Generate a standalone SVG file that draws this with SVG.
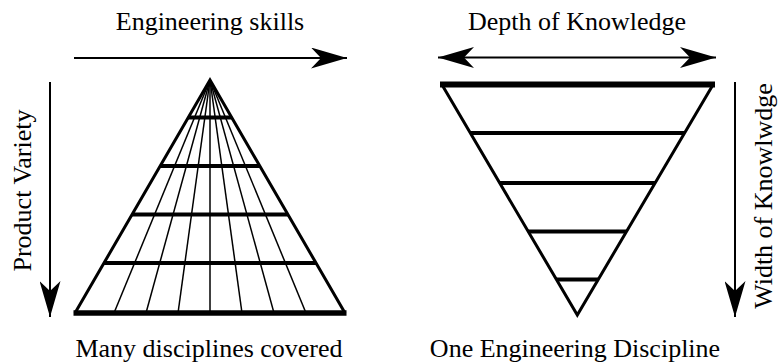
<svg xmlns="http://www.w3.org/2000/svg" width="778" height="363" viewBox="0 0 778 363">
  <style>
    .lbl { font-family: "Liberation Serif", "Times New Roman", serif; font-size: 26px; fill: #000; }
    .axis { stroke: #000; stroke-width: 2; fill: none; }
    .edge { stroke: #000; stroke-width: 3; fill: none; stroke-linejoin: miter; }
    .bar { stroke: #000; stroke-width: 4; }
    .ray { stroke: #000; stroke-width: 1.5; }
  </style>
  <defs>
    <marker id="head" viewBox="0 0 36 21" refX="36" refY="10.5" markerWidth="36" markerHeight="21" markerUnits="userSpaceOnUse" orient="auto-start-reverse">
      <path d="M36,10.5 L0,0 L10,10.5 L0,21 Z" fill="#000"/>
    </marker>
    <clipPath id="pyrClip">
      <polygon points="210,80 75,313 345,313"/>
    </clipPath>
    <clipPath id="funClip">
      <polygon points="441.7,84.3 713.3,84.3 577.3,315"/>
    </clipPath>
  </defs>

  <!-- axes -->
  <g id="connectors">
    <line class="axis" x1="74" y1="58" x2="347" y2="58" marker-end="url(#head)"/>
    <line class="axis" x1="50" y1="82" x2="50" y2="317" marker-end="url(#head)"/>
    <line class="axis" x1="438" y1="57.5" x2="716" y2="57.5" marker-start="url(#head)" marker-end="url(#head)"/>
    <line class="axis" x1="735" y1="82" x2="735" y2="317" marker-end="url(#head)"/>
  </g>

  <!-- axis labels -->
  <g id="label-engineering-skills">
    <text class="lbl" x="210" y="30" text-anchor="middle">Engineering skills</text>
  </g>
  <g id="label-product-variety">
    <text class="lbl" transform="translate(31,190.5) rotate(-90)" text-anchor="middle">Product Variety</text>
  </g>
  <g id="label-depth">
    <text class="lbl" x="577" y="30" text-anchor="middle">Depth of Knowledge</text>
  </g>
  <g id="label-width">
    <text class="lbl" transform="translate(772,196) rotate(-90)" text-anchor="middle">Width of Knowlwdge</text>
  </g>

  <!-- pyramid: many disciplines -->
  <g id="pyramid">
    <g clip-path="url(#pyrClip)">
      <line class="ray" x1="210" y1="80" x2="114" y2="313"/>
      <line class="ray" x1="210" y1="80" x2="146" y2="313"/>
      <line class="ray" x1="210" y1="80" x2="178" y2="313"/>
      <line class="ray" x1="210" y1="80" x2="210" y2="313"/>
      <line class="ray" x1="210" y1="80" x2="242" y2="313"/>
      <line class="ray" x1="210" y1="80" x2="274" y2="313"/>
      <line class="ray" x1="210" y1="80" x2="306" y2="313"/>
      <line class="bar" x1="60" y1="117.5" x2="360" y2="117.5"/>
      <line class="bar" x1="60" y1="166" x2="360" y2="166"/>
      <line class="bar" x1="60" y1="214.5" x2="360" y2="214.5"/>
      <line class="bar" x1="60" y1="263" x2="360" y2="263"/>
    </g>
    <polyline class="edge" points="75,313 210,80 345,313"/>
    <line stroke="#000" stroke-width="5.5" x1="73.5" y1="313" x2="346.5" y2="313"/>
    <text class="lbl" x="209" y="357" text-anchor="middle">Many disciplines covered</text>
  </g>

  <!-- inverted pyramid: one discipline -->
  <g id="funnel">
    <g clip-path="url(#funClip)">
      <line class="bar" x1="430" y1="133" x2="730" y2="133"/>
      <line class="bar" x1="430" y1="183" x2="730" y2="183"/>
      <line class="bar" x1="430" y1="231.5" x2="730" y2="231.5"/>
      <line class="bar" x1="430" y1="279.5" x2="730" y2="279.5"/>
    </g>
    <polyline class="edge" points="441.7,84.3 577.3,315 713.3,84.3"/>
    <line stroke="#000" stroke-width="6" x1="440" y1="84.5" x2="715" y2="84.5"/>
    <text class="lbl" x="575" y="357" text-anchor="middle">One Engineering Discipline</text>
  </g>
</svg>
